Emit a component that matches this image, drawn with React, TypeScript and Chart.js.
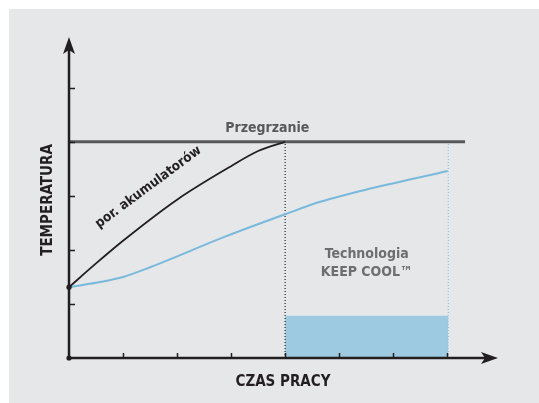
import React, { useEffect, useRef } from "react";
import { Chart, registerables } from "chart.js";

Chart.register(...registerables);

// ---- data ----
const xTicks = [1, 2, 3, 4, 5, 6, 7];
const yTicks = [1, 2, 3, 4, 5];
const xMax = 7.94;
const yMax = 5.94;

const overheatLevel = 4;
const overheatEnd = 7.33;

const batteryX = [0, 0.5, 1.0, 2.0, 3.0, 3.5, 4.0];
const batteryY = [1.31, 1.75, 2.17, 2.93, 3.55, 3.83, 4.0];

const keepCoolX = [0, 0.6, 1.0, 1.5, 2.9, 4.0, 4.65, 5.6, 7.01];
const keepCoolY = [1.31, 1.41, 1.5, 1.68, 2.25, 2.66, 2.89, 3.14, 3.46];

const keepCoolStart = 4;
const keepCoolEnd = 7.02;
const keepCoolBar = 0.78;

const labelOverheat = "Przegrzanie";
const labelBattery = "por. akumulatorów";
const labelTech = ["Technologia", "KEEP COOL™"];
const labelY = "TEMPERATURA";
const labelX = "CZAS PRACY";

const FONT = '"Liberation Sans Narrow", "DejaVu Sans Condensed", "Open Sans", sans-serif';
const GREY = "#e6e7e9";

const toPts = (xs: number[], ys: number[]) => xs.map((x, i) => ({ x, y: ys[i] }));

export default function App() {
  const ref = useRef<HTMLCanvasElement | null>(null);

  useEffect(() => {
    document.documentElement.style.background = GREY;
    document.body.style.background = GREY;
    if (!ref.current) return;
    const decor = {
      id: "decor",
      afterDatasetsDraw(chart: any) {
        const ctx = chart.ctx;
        const xs = chart.scales.x;
        const ys = chart.scales.y;
        const { left, right, top, bottom } = chart.chartArea;
        const x0 = xs.getPixelForValue(0);
        const y0 = ys.getPixelForValue(0);
        ctx.save();
        ctx.strokeStyle = "#231f20";
        ctx.fillStyle = "#231f20";
        // axes
        ctx.lineWidth = 2.5;
        ctx.beginPath();
        ctx.moveTo(x0, y0);
        ctx.lineTo(x0, top + 10);
        ctx.moveTo(x0, y0);
        ctx.lineTo(right - 10, y0);
        ctx.stroke();
        // arrowheads
        ctx.beginPath();
        ctx.moveTo(x0, top);
        ctx.lineTo(x0 + 6, top + 17);
        ctx.lineTo(x0, top + 13);
        ctx.lineTo(x0 - 6, top + 17);
        ctx.closePath();
        ctx.fill();
        ctx.beginPath();
        ctx.moveTo(right, y0);
        ctx.lineTo(right - 17, y0 - 6);
        ctx.lineTo(right - 13, y0);
        ctx.lineTo(right - 17, y0 + 6);
        ctx.closePath();
        ctx.fill();
        // ticks
        ctx.lineWidth = 1.5;
        ctx.beginPath();
        yTicks.forEach((v) => {
          const p = Math.round(ys.getPixelForValue(v)) + 0.5;
          ctx.moveTo(x0, p);
          ctx.lineTo(x0 + 6, p);
        });
        xTicks.forEach((v) => {
          const p = Math.round(xs.getPixelForValue(v)) + 0.5;
          ctx.moveTo(p, y0);
          ctx.lineTo(p, y0 - 5);
        });
        ctx.stroke();
        // dots
        [0, batteryY[0]].forEach((v) => {
          ctx.beginPath();
          ctx.arc(x0, ys.getPixelForValue(v), 2.6, 0, Math.PI * 2);
          ctx.fill();
        });
        // texts
        ctx.textAlign = "center";
        ctx.textBaseline = "middle";
        ctx.fillStyle = "#58595b";
        ctx.font = `bold 14px ${FONT}`;
        ctx.fillText(labelOverheat, xs.getPixelForValue(3.67), ys.getPixelForValue(overheatLevel) - 13);

        ctx.fillStyle = "#6d6e71";
        ctx.font = `bold 14px ${FONT}`;
        const tx = xs.getPixelForValue((keepCoolStart + keepCoolEnd) / 2);
        ctx.fillText(labelTech[0], tx, ys.getPixelForValue(1.91));
        ctx.fillText(labelTech[1], tx, ys.getPixelForValue(1.59));

        ctx.fillStyle = "#231f20";
        ctx.font = `bold 13.5px ${FONT}`;
        ctx.save();
        ctx.translate(xs.getPixelForValue(1.47), ys.getPixelForValue(3.16));
        ctx.rotate((-36.5 * Math.PI) / 180);
        ctx.fillText(labelBattery, 0, 0);
        ctx.restore();

        ctx.font = `bold 15px ${FONT}`;
        ctx.save();
        ctx.translate(left - 21, (top + bottom) / 2 + 2.5);
        ctx.rotate(-Math.PI / 2);
        ctx.fillText(labelY, 0, 0);
        ctx.restore();

        ctx.font = `bold 15px ${FONT}`;
        ctx.fillText(labelX, xs.getPixelForValue(3.96), bottom + 24);
        ctx.restore();
      },
    };

    const chart = new Chart(ref.current, {
      type: "line",
      data: {
        datasets: [
          {
            data: toPts([keepCoolStart, keepCoolEnd], [keepCoolBar, keepCoolBar]),
            borderWidth: 0,
            borderColor: "rgba(0,0,0,0)",
            backgroundColor: "#9ecae1",
            fill: "origin",
            pointRadius: 0,
            order: 5,
          },
          {
            data: toPts([keepCoolStart, keepCoolStart], [0, overheatLevel]),
            borderColor: "#231f20",
            borderWidth: 1.2,
            borderDash: [1, 2],
            pointRadius: 0,
            order: 4,
          },
          {
            data: toPts([keepCoolEnd, keepCoolEnd], [0, overheatLevel]),
            borderColor: "#8fc3e0",
            borderWidth: 1.2,
            borderDash: [1, 2],
            pointRadius: 0,
            order: 4,
          },
          {
            data: toPts([0, overheatEnd], [overheatLevel, overheatLevel]),
            borderColor: "#58595b",
            borderWidth: 3,
            pointRadius: 0,
            order: 3,
          },
          {
            data: toPts(keepCoolX, keepCoolY),
            borderColor: "#78b9dc",
            borderWidth: 2,
            pointRadius: 0,
            cubicInterpolationMode: "monotone",
            order: 2,
          },
          {
            data: toPts(batteryX, batteryY),
            borderColor: "#231f20",
            borderWidth: 1.8,
            pointRadius: 0,
            cubicInterpolationMode: "monotone",
            order: 1,
          },
        ],
      },
      options: {
        animation: false,
        responsive: true,
        maintainAspectRatio: false,
        devicePixelRatio: 1,
        layout: { padding: { left: 69, top: 37, right: 41, bottom: 45 } },
        plugins: { legend: { display: false }, tooltip: { enabled: false } },
        scales: {
          x: { type: "linear", min: 0, max: xMax, display: false },
          y: { type: "linear", min: 0, max: yMax, display: false },
        },
      },
      plugins: [decor],
    } as any);
    return () => chart.destroy();
  }, []);

  return (
    <div style={{ position: "fixed", left: 0, top: 0, width: 539, height: 403, overflow: "hidden", background: GREY }}>
      <div style={{ position: "absolute", left: 0, top: 0, width: 539, height: 9, background: "#ffffff" }} />
      <div style={{ position: "absolute", left: 0, top: 0, width: 9, height: 403, background: "#ffffff" }} />
      <div style={{ position: "absolute", left: 0, top: 0, width: 539, height: 403 }}>
        <canvas ref={ref} />
      </div>
    </div>
  );
}
